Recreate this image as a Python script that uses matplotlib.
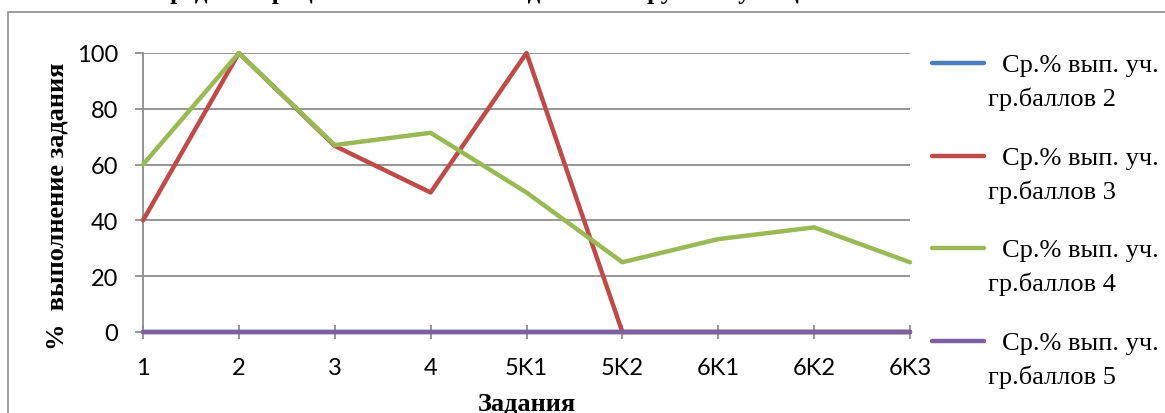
import matplotlib
matplotlib.use("Agg")
import matplotlib.pyplot as plt
from matplotlib.patches import Rectangle
from matplotlib.lines import Line2D

categories = ["1", "2", "3", "4", "5K1", "5K2", "6K1", "6K2", "6K3"]
grp2 = [0, 0, 0, 0, 0, 0, 0, 0, 0]
grp3 = [40, 100, 66.7, 50, 100, 0, 0, 0, 0]
grp4 = [60, 100, 67, 71.4, 50, 25, 33.3, 37.5, 25]
grp5 = [0, 0, 0, 0, 0, 0, 0, 0, 0]
label_top = "Ср.% вып. уч."
label_bottom = ["гр.баллов 2", "гр.баллов 3", "гр.баллов 4", "гр.баллов 5"]
colors = ["#4A7EBB", "#BE4B48", "#98B954", "#7D60A0"]
yticks = [0, 20, 40, 60, 80, 100]

W, H = 1165, 414
fig = plt.figure(figsize=(W / 100, H / 100), dpi=100)

def fx(px):
    return px / W

def fy(py):
    return 1 - py / H

# chart frame
fig.add_artist(Rectangle((fx(8), -0.1), 1.2, fy(13) + 0.1, transform=fig.transFigure,
                         fill=False, edgecolor="#8c8c8c", lw=1.2))

# clipped title (only its lower part shows, as in the reference)
fig.text(0.43, 1.0 + 1 / H, "Средний процент выполнения заданий по группам учащихся",
         ha="center", va="baseline", fontsize=18, fontweight="bold",
         family="Liberation Serif")

ax = fig.add_axes([fx(143), fy(333), fx(910) - fx(143), fy(54) - fy(333)])
x = list(range(len(categories)))
series = [grp2, grp3, grp4, grp5]
for vals, c in zip(series, colors):
    ax.plot(x, vals, color=c, lw=3.2, solid_capstyle="round", zorder=3, clip_on=False)

ax.set_xlim(0, len(categories) - 1)
ax.set_ylim(0, 100)
ax.set_yticks(yticks)
ax.set_xticks(x)
ax.set_xticklabels(categories)
ax.grid(axis="y", color="#8c8c8c", lw=1.3)
for s in ["top", "right"]:
    ax.spines[s].set_visible(False)
for s in ["left", "bottom"]:
    ax.spines[s].set_color("#8c8c8c")
    ax.spines[s].set_linewidth(1.3)
ax.tick_params(axis="y", direction="out", length=6, color="#8c8c8c", width=1.3,
               labelsize=17, pad=12)
ax.tick_params(axis="x", direction="inout", length=10, color="#8c8c8c", width=1.3,
               labelsize=17, pad=13)
for t in ax.get_xticklabels() + ax.get_yticklabels():
    t.set_family("Lato")

ax.set_ylabel("%  выполнение задания", fontsize=19, fontweight="bold",
              family="Liberation Serif")
ax.yaxis.set_label_coords((57 - 143) / 767, (333 - 206) / 279)
ax.set_xlabel("Задания", fontsize=19, fontweight="bold", family="Liberation Serif")
ax.xaxis.set_label_coords(0.5, -(404 - 333) / 279)
ax.xaxis.label.set_va("center")
ax.yaxis.label.set_va("center")

# legend drawn by hand to mimic Excel's wrapped labels
leg_y = [64, 157, 249, 342]
for yy, c, lb in zip(leg_y, colors, label_bottom):
    fig.add_artist(Line2D([fx(932), fx(984)], [fy(yy), fy(yy)], color=c, lw=3.2,
                          solid_capstyle="round", transform=fig.transFigure))
    fig.text(fx(1002), fy(yy + 2), label_top, ha="left", va="center", fontsize=19,
             family="Liberation Serif")
    fig.text(fx(988), fy(yy + 35), lb, ha="left", va="center", fontsize=19,
             family="Liberation Serif")

fig.savefig("out.png", dpi=100)
